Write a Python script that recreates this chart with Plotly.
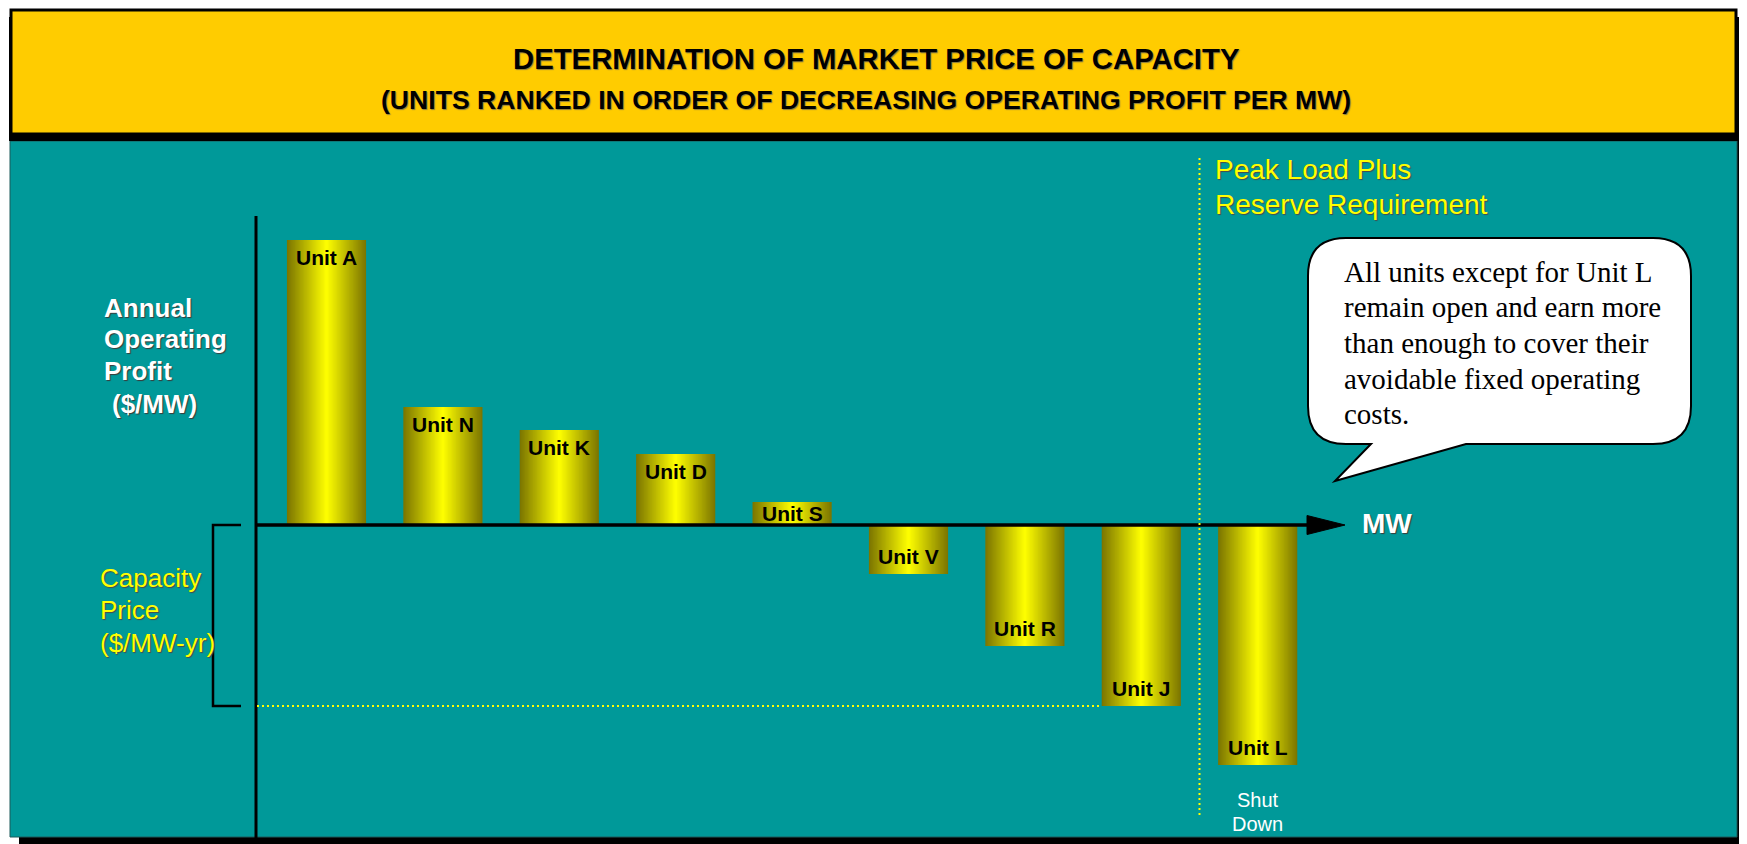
import plotly.graph_objects as go

# ---------------- data ----------------
units = ["Unit A", "Unit N", "Unit K", "Unit D", "Unit S", "Unit V", "Unit R", "Unit J", "Unit L"]
operating_profit = [285, 118, 95, 71, 23, -49, -121, -181, -240]
marginal_unit = "Unit J"
shutdown_unit = "Unit L"

title_text = "DETERMINATION OF MARKET PRICE OF CAPACITY"
subtitle_text = "(UNITS RANKED IN ORDER OF DECREASING OPERATING PROFIT PER MW)"
profit_label_lines = ["Annual", "Operating", "Profit", "($/MW)"]
price_label_lines = ["Capacity", "Price", "($/MW-yr)"]
peak_label_lines = ["Peak Load Plus", "Reserve Requirement"]
bubble_lines = ["All units except for Unit L", "remain open and earn more",
                "than enough to cover their", "avoidable fixed operating", "costs."]
shutdown_lines = ["Shut", "Down"]
x_axis_label = "MW"

# ---------------- layout constants ----------------
PAGE_W, PAGE_H = 1747, 844
OFF = 8                                   # default page body margin
FW, FH = PAGE_W - OFF, PAGE_H - OFF       # figure size
SANS = "Liberation Sans, Arial, sans-serif"
SERIF = "Liberation Serif, Times New Roman, serif"
TEAL = "#009999"
HEADER = "#FFCC00"
YEL = "#FFFF00"

X0_PX, X_STEP_PX = 326.5, 116.4          # page pixel of first category, spacing
ZERO_PX = 525                             # page pixel of the zero line
PX_PER_UNIT = 1.0
YMAX = (ZERO_PX - OFF) / PX_PER_UNIT
YMIN = YMAX - FH / PX_PER_UNIT
BAR_W = 0.68


def px(x):
    return (x - OFF) / FW


def py(y):
    return 1 - (y - OFF) / FH


def xd(p):
    return (p - X0_PX) / X_STEP_PX


fig = go.Figure()

# gradient bars: stacked overlay layers, dark olive edge -> bright yellow centre
N_LAYERS = 30
EDGE = (122, 116, 0)
CENTER = (255, 255, 0)
for k in range(N_LAYERS):
    frac = 1 - k / N_LAYERS
    d = 1 - (k + 0.5) / N_LAYERS
    c = tuple(round(CENTER[j] + (EDGE[j] - CENTER[j]) * d) for j in range(3))
    fig.add_trace(go.Bar(
        x=units, y=operating_profit, width=BAR_W * frac,
        marker=dict(color="rgb(%d,%d,%d)" % c, line=dict(width=0)),
        hoverinfo="skip", showlegend=False,
    ))

shapes = []
# panel + shadow
shapes.append(dict(type="rect", xref="paper", yref="paper", x0=px(19), x1=px(PAGE_W), y0=py(141), y1=py(PAGE_H),
                   fillcolor="black", line=dict(width=0), layer="below"))
shapes.append(dict(type="rect", xref="paper", yref="paper", x0=px(10), x1=px(1737), y0=py(141), y1=py(837),
                   fillcolor=TEAL, line=dict(color="#1c5a5a", width=1), layer="below"))
# header + shadow
shapes.append(dict(type="rect", xref="paper", yref="paper", x0=px(9), x1=px(PAGE_W), y0=py(17), y1=py(141),
                   fillcolor="black", line=dict(width=0), layer="below"))
shapes.append(dict(type="rect", xref="paper", yref="paper", x0=px(11), x1=px(1736), y0=py(10), y1=py(134),
                   fillcolor=HEADER, line=dict(color="black", width=3), layer="below"))

# vertical axis line
shapes.append(dict(type="line", xref="paper", yref="paper", x0=px(256), x1=px(256), y0=py(216), y1=py(838),
                   line=dict(color="black", width=3), layer="above"))
# horizontal axis line at zero + arrow
shapes.append(dict(type="line", xref="paper", yref="y", x0=px(256), x1=px(1310), y0=0, y1=0,
                   line=dict(color="black", width=3.5), layer="above"))
ah = 9.5 / PX_PER_UNIT
shapes.append(dict(type="path", xref="paper", yref="y",
                   path="M %f,%f L %f,0 L %f,%f Z" % (px(1307), ah, px(1345), px(1307), -ah),
                   fillcolor="black", line=dict(color="black", width=1), layer="above"))

v_marg = operating_profit[units.index(marginal_unit)]
i_marg = units.index(marginal_unit)
# bracket for capacity price
shapes.append(dict(type="path", xref="paper", yref="y",
                   path="M %f,0 L %f,0 L %f,%f L %f,%f" % (px(241), px(213), px(213), v_marg, px(241), v_marg),
                   line=dict(color="black", width=2.5), layer="above"))
# dotted horizontal line at marginal unit's level
shapes.append(dict(type="line", xref="x", yref="y", x0=xd(257), x1=i_marg - BAR_W / 2, y0=v_marg, y1=v_marg,
                   line=dict(color=YEL, width=2, dash="2px,3px"), layer="above"))
# dotted vertical line (peak load plus reserve requirement)
shapes.append(dict(type="line", xref="x", yref="paper", x0=i_marg + 0.5, x1=i_marg + 0.5, y0=py(158), y1=py(817),
                   line=dict(color=YEL, width=2, dash="2px,3px"), layer="above"))

# speech bubble
L, R, T, B, r = 1308, 1691, 238, 444, 38
bl, br, tipx, tipy = 1371, 1466, 1335, 481
pts = [("M", L + r, T), ("L", R - r, T), ("Q", R, T, R, T + r), ("L", R, B - r), ("Q", R, B, R - r, B),
       ("L", br, B), ("L", tipx, tipy), ("L", bl, B), ("L", L + r, B), ("Q", L, B, L, B - r),
       ("L", L, T + r), ("Q", L, T, L + r, T)]
path = ""
for p in pts:
    cmd = p[0]
    coords = p[1:]
    segs = []
    for j in range(0, len(coords), 2):
        segs.append("%f,%f" % (px(coords[j]), py(coords[j + 1])))
    path += cmd + " " + " ".join(segs) + " "
path += "Z"
shapes.append(dict(type="path", xref="paper", yref="paper", path=path, fillcolor="white",
                   line=dict(color="black", width=2), layer="above"))

annotations = []


def ann(text, x, y, size, color, family=SANS, bold=False, xanchor="center", shadow=None,
        xref="paper", yref="paper", yshift=0):
    f = dict(family=family, size=size, color=color)
    if bold:
        f["weight"] = "bold"
    if shadow:
        f["shadow"] = shadow
    annotations.append(dict(text=text, x=x, y=y, xref=xref, yref=yref, showarrow=False,
                            xanchor=xanchor, yanchor="middle", font=f, yshift=yshift))


ann(title_text, px(876), py(58), 29.3, "black", bold=True, shadow="1px 1px 1px rgba(90,90,90,0.7)")
ann(subtitle_text, px(866), py(100), 26.6, "black", bold=True, shadow="1px 1px 1px rgba(90,90,90,0.7)")

for line, yy, xx in zip(profit_label_lines, [307.5, 339, 371, 403.5], [102, 102, 102, 110]):
    ann(line, px(xx), py(yy), 26, "white", bold=True, xanchor="left", shadow="1px 1px 1px #3a3a3a")

for line, yy in zip(price_label_lines, [578, 610, 643]):
    ann(line, px(98), py(yy), 26, YEL, xanchor="left", shadow="1px 1px 1px #4a4a4a")

for line, yy in zip(peak_label_lines, [170, 204]):
    ann(line, px(1213), py(yy), 28, YEL, xanchor="left", shadow="1px 1px 1px #4a4a4a")

for line, yy in zip(bubble_lines, [272, 307, 343, 379, 414]):
    ann(line, px(1342), py(yy), 29, "black", family=SERIF, xanchor="left")

ann(x_axis_label, px(1360), py(523), 28, "white", bold=True, xanchor="left", shadow="1px 1px 1px #3a3a3a")

for line, yy in zip(shutdown_lines, [800, 824]):
    ann(line, shutdown_unit, py(yy), 20, "white", xref="x", yref="paper")

LABEL_INSET = 17.5
for u, v in zip(units, operating_profit):
    shift = min(LABEL_INSET, abs(v) * PX_PER_UNIT / 2)
    ann(u, u, v, 21, "black", bold=True, xref="x", yref="y", yshift=-shift if v > 0 else shift)

fig.update_layout(
    width=FW, height=FH,
    margin=dict(l=0, r=0, t=0, b=0),
    paper_bgcolor="white", plot_bgcolor="rgba(0,0,0,0)",
    barmode="overlay",
    showlegend=False,
    xaxis=dict(type="category", range=[xd(OFF), xd(PAGE_W)], visible=False, fixedrange=True),
    yaxis=dict(range=[YMIN, YMAX], visible=False, fixedrange=True),
    shapes=shapes,
    annotations=annotations,
)

fig.write_html("out.html")
